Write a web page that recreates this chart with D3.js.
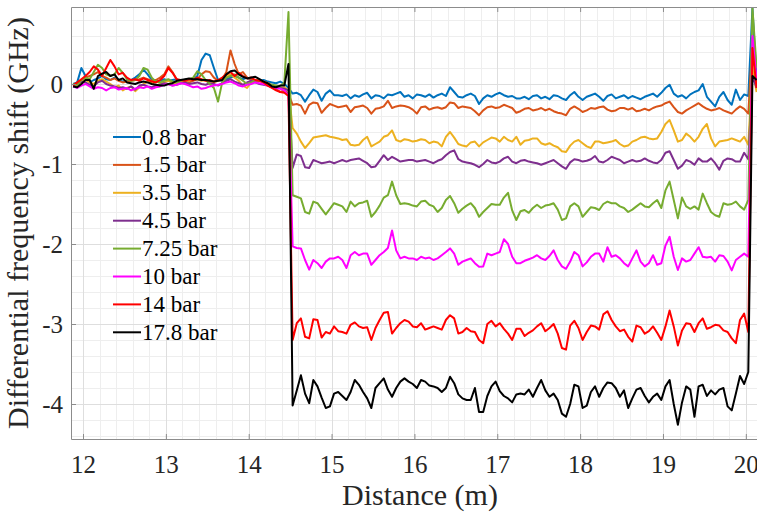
<!DOCTYPE html>
<html>
<head>
<meta charset="utf-8">
<script src="https://cdn.jsdelivr.net/npm/d3@7"></script>
<style>
  html, body { margin: 0; padding: 0; background: #fff; }
  svg { display: block; }
</style>
</head>
<body>
<svg id="chart" width="757" height="514"></svg>
<script>
// Differential frequency shift along the fibre for eight pressures.
// Samples every 0.05 m starting at 11.88 m.
const startDistance = 11.88;
const stepDistance = 0.05;

const pressureLabels = ["0.8 bar", "1.5 bar", "3.5 bar", "4.5 bar", "7.25 bar", "10 bar", "14 bar", "17.8 bar"];
const lineColors = ["#0072BD", "#D95319", "#EDB120", "#7E2F8E", "#77AC30", "#FF00FF", "#FF0000", "#000000"];

const xTicks = [12, 13, 14, 15, 16, 17, 18, 19, 20];
const yTicks = [-4, -3, -2, -1, 0];

const shift0p8 = [
  0.00, 0.02, 0.20, 0.10, 0.02, 0.05, 0.07, 0.10, 0.06, 0.05,
  0.08, 0.05, 0.03, 0.04, 0.05, 0.08, 0.12, 0.18, 0.12, 0.05,
  0.03, 0.04, 0.06, 0.04, 0.05, 0.06, 0.03, 0.05, 0.04, 0.06,
  0.10, 0.30, 0.38, 0.36, 0.20, 0.05, 0.04, 0.06, 0.08, 0.10,
  0.08, 0.06, 0.08, 0.05, 0.03, 0.04, 0.05, 0.03, 0.02, 0.01,
  0.03, 0.00, -0.05,
  -0.12, -0.11, -0.14, -0.22, -0.14, -0.07, -0.10, -0.21, -0.12, -0.08,
  -0.14, -0.14, -0.15, -0.13, -0.18, -0.14, -0.16, -0.13, -0.11, -0.18,
  -0.14, -0.15, -0.18, -0.13, -0.14, -0.12, -0.10, -0.16, -0.14, -0.18,
  -0.13, -0.14, -0.16, -0.13, -0.17, -0.14, -0.12, -0.15, -0.04, -0.10,
  -0.16, -0.17, -0.14, -0.12, -0.15, -0.25, -0.18, -0.14, -0.16, -0.13,
  -0.11, -0.14, -0.16, -0.15, -0.18, -0.18, -0.16, -0.19, -0.15, -0.14,
  -0.18, -0.16, -0.19, -0.14, -0.15, -0.18, -0.20, -0.14, -0.10, -0.16,
  -0.20, -0.16, -0.14, -0.12, -0.16, -0.21, -0.15, -0.13, -0.18, -0.16,
  -0.14, -0.18, -0.15, -0.17, -0.19, -0.16, -0.14, -0.12, -0.16, -0.11,
  -0.05, -0.01, -0.12, -0.16, -0.14, -0.18, -0.13, -0.10, -0.08, 0.00,
  -0.16, -0.22, -0.28, -0.16, -0.10, -0.20, -0.26, -0.07, -0.20, -0.13, -0.15,
  0.95, 0.05
];

const shift1p5 = [
  -0.02, 0.00, 0.05, 0.08, 0.10, 0.12, 0.15, 0.10, 0.08, 0.05,
  0.07, 0.04, 0.02, 0.03, 0.04, 0.05, 0.06, 0.08, 0.06, 0.04,
  0.05, 0.08, 0.12, 0.22, 0.15, 0.06, 0.03, 0.04, 0.02, 0.04,
  0.06, 0.12, 0.16, 0.15, 0.08, 0.04, 0.06, 0.15, 0.42, 0.25,
  0.12, 0.15, 0.08, 0.06, 0.04, 0.05, 0.03, 0.01, -0.02, -0.06,
  -0.10, -0.08, -0.12,
  -0.26, -0.25, -0.27, -0.37, -0.26, -0.23, -0.24, -0.36, -0.30, -0.25,
  -0.27, -0.29, -0.28, -0.27, -0.35, -0.29, -0.28, -0.27, -0.30, -0.37,
  -0.31, -0.30, -0.28, -0.21, -0.30, -0.28, -0.27, -0.275, -0.29, -0.32,
  -0.37, -0.29, -0.28, -0.32, -0.30, -0.29, -0.31, -0.29, -0.23, -0.24,
  -0.30, -0.28, -0.29, -0.30, -0.34, -0.39, -0.33, -0.29, -0.28, -0.30,
  -0.29, -0.26, -0.28, -0.30, -0.36, -0.34, -0.31, -0.30, -0.33, -0.32,
  -0.30, -0.33, -0.31, -0.34, -0.36, -0.37, -0.39, -0.31, -0.28, -0.31,
  -0.35, -0.33, -0.30, -0.31, -0.29, -0.28, -0.32, -0.34, -0.33, -0.30,
  -0.30, -0.32, -0.30, -0.34, -0.33, -0.31, -0.33, -0.30, -0.28, -0.27,
  -0.24, -0.22, -0.29, -0.35, -0.37, -0.33, -0.30, -0.27, -0.24, -0.28,
  -0.31, -0.33, -0.32, -0.30, -0.33, -0.35, -0.37, -0.32, -0.28, -0.31, -0.37,
  0.55, -0.05
];

const shift3p5 = [
  0.00, -0.02, 0.03, 0.05, 0.02, 0.00, 0.04, 0.06, 0.03, 0.00,
  -0.04, -0.02, -0.08, -0.05, -0.03, -0.09, -0.04, 0.00, 0.03, 0.01,
  -0.02, 0.00, 0.02, 0.04, 0.02, 0.00, 0.03, 0.05, 0.04, 0.07,
  0.06, 0.04, 0.05, 0.03, 0.02, 0.04, 0.06, 0.10, 0.12, 0.08,
  0.04, -0.02, -0.05, 0.02, 0.05, 0.04, 0.03, 0.01, -0.02, -0.03,
  -0.05, -0.04, -0.08,
  -0.55, -0.62, -0.72, -0.80, -0.74, -0.67, -0.66, -0.65, -0.64, -0.66,
  -0.67, -0.68, -0.70, -0.69, -0.76, -0.77, -0.76, -0.70, -0.66, -0.78,
  -0.75, -0.72, -0.66, -0.64, -0.58, -0.70, -0.72, -0.69, -0.70, -0.72,
  -0.71, -0.69, -0.70, -0.74, -0.72, -0.73, -0.78, -0.66, -0.60, -0.67,
  -0.75, -0.77, -0.78, -0.73, -0.72, -0.78, -0.73, -0.70, -0.67, -0.68,
  -0.72, -0.66, -0.70, -0.72, -0.66, -0.76, -0.71, -0.70, -0.68, -0.68,
  -0.74, -0.76, -0.74, -0.77, -0.79, -0.84, -0.85, -0.77, -0.72, -0.70,
  -0.74, -0.78, -0.80, -0.72, -0.72, -0.74, -0.73, -0.72, -0.70, -0.75,
  -0.78, -0.77, -0.72, -0.70, -0.67, -0.66, -0.68, -0.69, -0.68, -0.60,
  -0.50, -0.45, -0.58, -0.72, -0.70, -0.62, -0.66, -0.72, -0.66, -0.56,
  -0.50, -0.68, -0.78, -0.72, -0.71, -0.70, -0.68, -0.70, -0.72, -0.66, -0.76,
  0.20, -0.10
];

const shift4p5 = [
  -0.01, 0.00, 0.03, 0.02, -0.01, -0.03, 0.02, 0.04, 0.00, -0.02,
  -0.03, -0.05, -0.04, -0.06, -0.03, -0.07, -0.02, -0.01, -0.03, -0.04,
  -0.02, -0.01, 0.01, 0.00, -0.02, -0.01, 0.01, 0.02, 0.00, 0.01,
  0.02, 0.00, -0.01, 0.01, 0.00, -0.02, 0.01, 0.04, 0.06, 0.03,
  0.01, -0.01, 0.02, 0.04, 0.02, 0.00, -0.01, -0.02, -0.04, -0.03,
  -0.05, -0.06, -0.08,
  -1.05, -0.88, -0.90, -1.04, -1.05, -0.95, -0.97, -0.99, -0.98, -0.97,
  -0.99, -0.97, -0.95, -0.97, -0.95, -0.94, -0.93, -0.96, -0.99, -1.04,
  -1.03, -0.96, -0.89, -0.95, -0.91, -0.94, -0.97, -0.96, -0.95, -0.95,
  -0.97, -0.96, -0.95, -0.97, -0.99, -0.96, -0.94, -0.89, -0.85, -0.83,
  -0.94, -0.97, -0.98, -0.99, -1.01, -1.04, -1.00, -0.95, -0.98, -0.99,
  -0.97, -0.93, -0.91, -0.97, -0.99, -0.96, -0.95, -0.97, -0.98, -0.99,
  -1.01, -0.99, -0.97, -0.95, -0.99, -1.03, -1.06, -0.98, -0.94, -0.95,
  -0.97, -0.96, -0.94, -0.90, -0.97, -0.98, -0.95, -0.91, -0.93, -0.95,
  -0.99, -0.97, -0.95, -0.97, -0.96, -0.93, -0.96, -0.98, -0.99, -0.95,
  -0.86, -0.84, -0.95, -1.06, -1.02, -0.95, -0.97, -1.01, -0.93, -0.97,
  -0.97, -0.93, -0.99, -1.07, -0.96, -0.93, -0.94, -0.97, -0.97, -0.86, -0.94,
  0.10, -0.05
];

const shift7p25 = [
  0.00, -0.01, 0.05, 0.08, 0.06, 0.15, 0.24, 0.20, 0.12, 0.10,
  0.12, 0.20, 0.14, 0.06, 0.04, 0.05, 0.10, 0.20, 0.18, 0.08,
  0.03, 0.02, 0.04, 0.06, 0.03, 0.02, 0.04, 0.05, 0.06, 0.08,
  0.16, 0.12, 0.05, 0.00, -0.05, -0.22, 0.02, 0.08, 0.10, 0.12,
  0.08, 0.04, 0.00, 0.02, 0.05, 0.04, 0.02, 0.00, -0.01, -0.02,
  -0.03, 0.02, 0.90,
  -1.39, -1.41, -1.43, -1.60, -1.62, -1.47, -1.49, -1.56, -1.63, -1.56,
  -1.49, -1.51, -1.53, -1.60, -1.47, -1.53, -1.49, -1.48, -1.46, -1.66,
  -1.60, -1.52, -1.42, -1.39, -1.22, -1.39, -1.50, -1.49, -1.50, -1.52,
  -1.53, -1.47, -1.46, -1.51, -1.53, -1.60, -1.55, -1.45, -1.40, -1.49,
  -1.61, -1.56, -1.52, -1.49, -1.55, -1.66, -1.60, -1.55, -1.50, -1.51,
  -1.51, -1.42, -1.36, -1.58, -1.70, -1.59, -1.575, -1.61, -1.55, -1.51,
  -1.55, -1.52, -1.51, -1.49, -1.57, -1.70, -1.68, -1.53, -1.49, -1.53,
  -1.66, -1.60, -1.54, -1.55, -1.575, -1.50, -1.47, -1.49, -1.49, -1.53,
  -1.55, -1.60, -1.57, -1.53, -1.49, -1.53, -1.54, -1.49, -1.45, -1.55,
  -1.33, -1.22, -1.45, -1.68, -1.42, -1.53, -1.56, -1.53, -1.57, -1.37,
  -1.49, -1.60, -1.64, -1.66, -1.49, -1.51, -1.50, -1.47, -1.53, -1.57, -1.45,
  0.95, 0.20
];

const shift10 = [
  -0.03, -0.05, -0.02, 0.00, -0.03, -0.06, -0.04, -0.05, -0.08, -0.05,
  -0.04, -0.07, -0.06, -0.05, -0.08, -0.06, -0.04, -0.05, -0.03, -0.06,
  -0.04, -0.03, -0.01, 0.00, -0.02, -0.01, 0.01, 0.00, -0.02, -0.04,
  -0.03, -0.06, -0.05, -0.03, -0.02, -0.01, 0.00, 0.02, 0.03, 0.01,
  -0.02, -0.03, -0.01, 0.00, 0.02, 0.01, 0.00, -0.02, -0.04, -0.05,
  -0.06, -0.08, -0.15,
  -2.03, -2.05, -2.055, -2.20, -2.32, -2.20, -2.24, -2.30, -2.22, -2.18,
  -2.18, -2.16, -2.20, -2.30, -2.14, -2.10, -2.14, -2.12, -2.12, -2.26,
  -2.20, -2.14, -2.10, -2.05, -1.83, -2.08, -2.18, -2.16, -2.18, -2.18,
  -2.20, -2.16, -2.18, -2.17, -2.20, -2.18, -2.14, -2.10, -2.055, -2.12,
  -2.26, -2.22, -2.20, -2.18, -2.24, -2.285, -2.28, -2.12, -2.14, -2.12,
  -2.10, -1.94, -2.00, -2.16, -2.24, -2.24, -2.21, -2.19, -2.17, -2.14,
  -2.18, -2.20, -2.15, -2.08, -2.20, -2.28, -2.31, -2.22, -2.10, -2.14,
  -2.28, -2.23, -2.16, -2.12, -2.12, -2.22, -2.04, -2.16, -2.14, -2.18,
  -2.24, -2.28, -2.18, -2.08, -2.22, -2.28, -2.24, -2.14, -2.26, -2.24,
  -2.02, -1.91, -2.16, -2.325, -2.18, -2.22, -2.20, -2.12, -2.04, -2.16,
  -2.17, -2.16, -2.22, -2.14, -2.15, -2.22, -2.33, -2.20, -2.16, -2.12, -2.16,
  0.60, 0.05
];

const shift14 = [
  -0.02, 0.02, 0.06, 0.10, 0.15, 0.22, 0.18, 0.10, 0.20, 0.30,
  0.22, 0.12, 0.14, 0.08, 0.05, 0.06, 0.04, 0.07, 0.05, 0.03,
  0.02, 0.05, 0.10, 0.20, 0.14, 0.06, 0.05, 0.04, 0.06, 0.05,
  0.08, 0.06, 0.04, 0.05, 0.03, 0.05, 0.08, 0.12, 0.15, 0.10,
  0.14, 0.10, 0.07, 0.08, 0.05, 0.04, 0.02, -0.02, -0.05, -0.08,
  -0.10, -0.11, -0.15,
  -3.20, -2.99, -2.93, -3.16, -3.18, -2.94, -2.95, -3.17, -3.10, -3.12,
  -3.03, -3.09, -3.10, -3.12, -3.01, -2.98, -3.03, -3.05, -3.04, -3.20,
  -3.05, -2.95, -2.86, -2.85, -3.12, -3.05, -2.99, -2.95, -2.97, -3.03,
  -3.04, -2.99, -3.07, -3.05, -3.03, -3.05, -3.07, -2.95, -2.89, -2.93,
  -3.12, -3.10, -3.05, -3.09, -3.10, -3.20, -3.24, -3.00, -2.96, -3.03,
  -2.99, -3.06, -3.12, -3.20, -3.06, -3.06, -3.15, -3.11, -3.08, -3.03,
  -2.99, -3.09, -3.05, -3.00, -3.12, -3.30, -3.32, -3.02, -2.96, -3.05,
  -3.20, -3.10, -3.02, -3.03, -3.07, -2.88, -2.84, -2.95, -3.03, -3.09,
  -3.07, -3.16, -3.22, -3.02, -3.04, -3.12, -3.09, -3.03, -3.11, -3.20,
  -3.03, -2.83, -3.03, -3.27, -3.08, -2.99, -3.00, -3.10, -2.99, -2.93,
  -3.06, -3.04, -3.01, -3.02, -3.08, -3.10, -3.18, -3.24, -2.95, -2.87, -3.10,
  0.45, -0.05
];

const shift17p8 = [
  -0.03, -0.04, 0.00, 0.05, 0.05, -0.06, 0.10, 0.13, 0.15, 0.10,
  0.12, 0.05, 0.07, 0.02, 0.01, 0.00, 0.02, 0.03, 0.02, 0.00,
  -0.01, -0.02, -0.02, 0.00, 0.01, 0.04, 0.05, 0.06, 0.07, 0.06,
  0.06, 0.05, 0.05, 0.04, 0.03, 0.04, 0.05, 0.12, 0.16, 0.17,
  0.12, 0.09, 0.07, 0.08, 0.09, 0.06, 0.03, 0.01, -0.03, -0.04,
  -0.02, -0.02, 0.25,
  -4.02, -3.83, -3.64, -3.87, -3.99, -3.70, -3.78, -3.92, -4.05, -4.03,
  -3.87, -3.85, -3.90, -3.95, -3.85, -3.70, -3.76, -3.85, -3.93, -4.05,
  -3.80, -3.74, -3.68, -3.82, -3.91, -3.80, -3.72, -3.68, -3.72, -3.75,
  -3.80, -3.70, -3.72, -3.77, -3.78, -3.80, -3.85, -3.80, -3.66, -3.74,
  -3.88, -3.93, -3.95, -3.95, -3.80, -4.10, -4.10, -3.90, -3.78, -3.72,
  -3.84, -3.90, -3.93, -3.98, -3.88, -3.87, -3.88, -3.82, -3.91, -3.80,
  -3.70, -3.83, -3.91, -3.87, -3.95, -4.12, -4.16, -4.00, -3.76, -3.78,
  -4.05, -4.02, -3.85, -3.78, -3.91, -3.80, -3.73, -3.74, -3.80, -3.91,
  -3.83, -4.05, -3.93, -3.82, -3.80, -3.90, -3.98, -3.91, -3.87, -3.95,
  -3.78, -3.70, -4.00, -4.26, -3.98, -3.78, -3.82, -4.16, -3.78, -3.76,
  -3.90, -3.83, -3.88, -3.82, -3.80, -4.03, -4.08, -3.87, -3.65, -3.75, -3.60,
  0.10, 0.05
];

const seriesValues = [shift0p8, shift1p5, shift3p5, shift4p5, shift7p25, shift10, shift14, shift17p8];

// ---- layout ----
const serif = '"Liberation Serif", "Times New Roman", Times, serif';
const svg = d3.select("#chart");
const plot = { left: 71, right: 757, top: 7, bottom: 439 };

const x = d3.scaleLinear().domain([11.855, 20.135]).range([plot.left, plot.right]);
const y = d3.scaleLinear().domain([-4.4375, 0.9625]).range([plot.bottom, plot.top]);

const axisColor = "#8c8c8c";
const textColor = "#262626";

// grid: minor every 0.2, major at the integer ticks
const gridG = svg.append("g");
const xMinor = d3.range(12, 20.15, 0.2).filter(v => v >= x.domain()[0] && v <= x.domain()[1]);
const yMinor = d3.range(-4.4, 0.95, 0.2);
gridG.selectAll("line.vminor").data(xMinor).join("line")
  .attr("x1", d => Math.round(x(d)) + 0.5).attr("x2", d => Math.round(x(d)) + 0.5)
  .attr("y1", plot.top).attr("y2", plot.bottom)
  .attr("stroke", "#eeeeee").attr("stroke-width", 1);
gridG.selectAll("line.hminor").data(yMinor).join("line")
  .attr("y1", d => Math.round(y(d)) + 0.5).attr("y2", d => Math.round(y(d)) + 0.5)
  .attr("x1", plot.left).attr("x2", plot.right)
  .attr("stroke", "#eeeeee").attr("stroke-width", 1);
gridG.selectAll("line.vmajor").data(xTicks).join("line")
  .attr("x1", d => Math.round(x(d)) + 0.5).attr("x2", d => Math.round(x(d)) + 0.5)
  .attr("y1", plot.top).attr("y2", plot.bottom)
  .attr("stroke", "#dedede").attr("stroke-width", 1);
gridG.selectAll("line.hmajor").data(yTicks).join("line")
  .attr("y1", d => Math.round(y(d)) + 0.5).attr("y2", d => Math.round(y(d)) + 0.5)
  .attr("x1", plot.left).attr("x2", plot.right)
  .attr("stroke", "#dedede").attr("stroke-width", 1);

// ---- data lines ----
svg.append("clipPath").attr("id", "plotClip")
  .append("rect")
  .attr("x", plot.left).attr("y", plot.top)
  .attr("width", plot.right - plot.left).attr("height", plot.bottom - plot.top);

const line = d3.line()
  .x((d, i) => x(+(startDistance + stepDistance * i).toFixed(2)))
  .y(d => y(d));

const linesG = svg.append("g").attr("clip-path", "url(#plotClip)");
linesG.selectAll("path").data(seriesValues).join("path")
  .attr("d", d => line(d))
  .attr("fill", "none")
  .attr("stroke", (d, i) => lineColors[i])
  .attr("stroke-width", 2)
  .attr("stroke-linejoin", "round");

// ---- axes ----
const xAxis = d3.axisBottom(x).tickValues(xTicks).tickFormat(d3.format("d"))
  .tickSizeInner(-5).tickSizeOuter(0).tickPadding(16);
const gx = svg.append("g").attr("transform", `translate(0,${plot.bottom})`).call(xAxis);

const xAxisTop = d3.axisTop(x).tickValues(xTicks).tickFormat("")
  .tickSizeInner(-5).tickSizeOuter(0);
const gxt = svg.append("g").attr("transform", `translate(0,${plot.top})`).call(xAxisTop);

const yAxis = d3.axisLeft(y).tickValues(yTicks).tickFormat(d => d === 0 ? "0" : "-" + Math.abs(d))
  .tickSizeInner(-5).tickSizeOuter(0).tickPadding(8);
const gy = svg.append("g").attr("transform", `translate(${plot.left},0)`).call(yAxis);

[gx, gxt, gy].forEach(g => {
  g.attr("font-family", serif).attr("font-size", 25);
  g.select(".domain").attr("stroke", axisColor).attr("stroke-width", 1);
  g.selectAll(".tick line").attr("stroke", axisColor);
  g.selectAll(".tick text").attr("fill", textColor);
});

// axis titles
svg.append("text")
  .attr("x", (plot.left + plot.right) / 2 + 6)
  .attr("y", 505)
  .attr("text-anchor", "middle")
  .attr("fill", textColor)
  .attr("font-family", serif)
  .attr("font-size", 30)
  .text("Distance (m)");

svg.append("text")
  .attr("transform", `translate(28,${(plot.top + plot.bottom) / 2}) rotate(-90)`)
  .attr("text-anchor", "middle")
  .attr("fill", textColor)
  .attr("font-family", serif)
  .attr("font-size", 30)
  .text("Differential frequency shift (GHz)");

// ---- legend ----
const legend = svg.append("g").attr("transform", "translate(113,137)");
const rowH = 27.9;
pressureLabels.forEach((label, i) => {
  const row = legend.append("g").attr("transform", `translate(0,${i * rowH})`);
  row.append("line")
    .attr("x1", 0).attr("x2", 28).attr("y1", 0).attr("y2", 0)
    .attr("stroke", lineColors[i]).attr("stroke-width", 2);
  row.append("text")
    .attr("x", 29).attr("y", 0).attr("dy", "0.33em")
    .attr("fill", "#000")
    .attr("font-family", serif)
    .attr("font-size", 23)
    .text(label);
});
</script>
</body>
</html>
